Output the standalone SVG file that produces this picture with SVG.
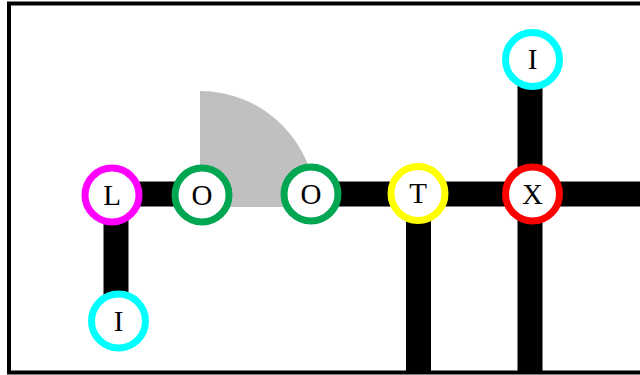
<svg xmlns="http://www.w3.org/2000/svg" width="640" height="375" viewBox="0 0 640 375">
  <style>
    .bar { stroke: #000; stroke-width: 25; stroke-linecap: butt; fill: none; }
    .ring { fill: #fff; stroke-width: 7; }
    .lbl { font-family: "Liberation Serif", "Times New Roman", serif; font-size: 29px; fill: #000; text-anchor: middle; }
  </style>
  <rect width="640" height="375" fill="#fff"/>
  <!-- frame, open on the right -->
  <rect x="9" y="3.5" width="700" height="369" fill="none" stroke="#000" stroke-width="4"/>
  <!-- grey quarter disc between the two O nodes -->
  <path id="sector" d="M200,207 L200,91 A116,116 0 0 1 316,207 Z" fill="#c0c0c0"/>
  <g id="connectors">
    <line class="bar" x1="113" y1="194" x2="202" y2="194"/>
    <line class="bar" x1="311" y1="194" x2="645" y2="194"/>
    <line class="bar" x1="116" y1="194" x2="116" y2="321"/>
    <line class="bar" x1="418.5" y1="194" x2="418.5" y2="371"/>
    <line class="bar" x1="530" y1="60" x2="530" y2="371"/>
  </g>
  <g id="node-L">
    <circle class="ring" cx="112" cy="195" r="27" stroke="#ff00ff"/>
    <text class="lbl" x="112" y="204.5">L</text>
  </g>
  <g id="node-O1">
    <circle class="ring" cx="202" cy="195" r="27" stroke="#00a651"/>
    <text class="lbl" x="202" y="204.5">O</text>
  </g>
  <g id="node-O2">
    <circle class="ring" cx="311" cy="194" r="27" stroke="#00a651"/>
    <text class="lbl" x="311" y="203.5">O</text>
  </g>
  <g id="node-T">
    <circle class="ring" cx="418" cy="193.5" r="27" stroke="#ffff00"/>
    <text class="lbl" x="418" y="203">T</text>
  </g>
  <g id="node-X">
    <circle class="ring" cx="532.5" cy="194" r="27" stroke="#ff0000"/>
    <text class="lbl" x="532.5" y="203.5">X</text>
  </g>
  <g id="node-I-top">
    <circle class="ring" cx="532.5" cy="59.5" r="27" stroke="#00ffff"/>
    <text class="lbl" x="532.5" y="69">I</text>
  </g>
  <g id="node-I-bottom">
    <circle class="ring" cx="118.5" cy="321" r="27" stroke="#00ffff"/>
    <text class="lbl" x="118.5" y="330.5">I</text>
  </g>
</svg>
